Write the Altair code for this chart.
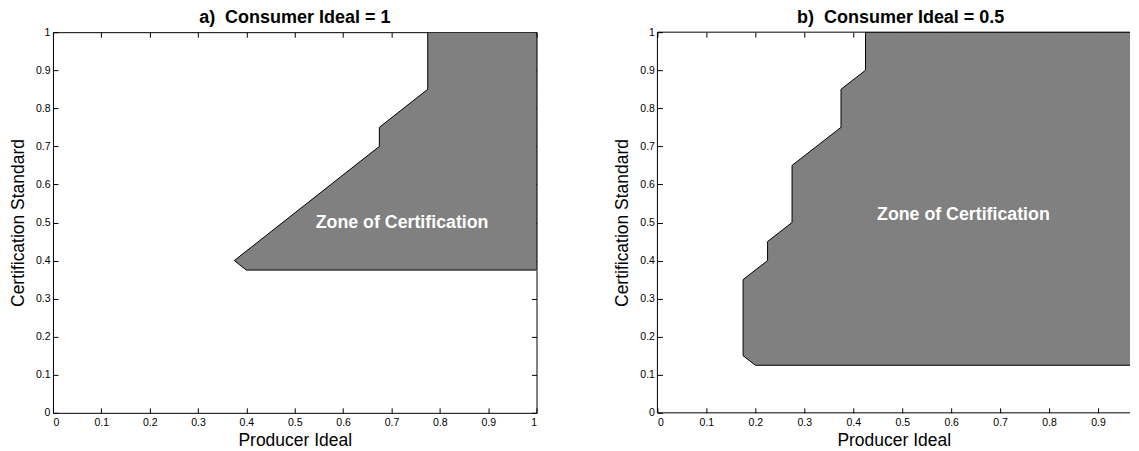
import altair as alt
import pandas as pd

TICKS = [0, 0.1, 0.2, 0.3, 0.4, 0.5, 0.6, 0.7, 0.8, 0.9, 1]

# Panel a: left boundary of the zone of certification (standard -> producer ideal)
A_STANDARD = [0.375, 0.40, 0.70, 0.75, 0.85, 1.00]
A_PRODUCER = [0.400, 0.375, 0.675, 0.675, 0.775, 0.775]
# Panel b
B_STANDARD = [0.125, 0.15, 0.35, 0.40, 0.45, 0.50, 0.65, 0.75, 0.85, 0.90, 1.00]
B_PRODUCER = [0.200, 0.175, 0.175, 0.225, 0.225, 0.275, 0.275, 0.375, 0.375, 0.425, 0.425]
RIGHT_EDGE = 1.0

TITLES = ["a)\u00a0 Consumer Ideal = 1", "b)\u00a0 Consumer Ideal = 0.5"]
ZONE_LABEL = "Zone of Certification"
LABEL_A = (0.722, 0.50)
LABEL_B = (0.625, 0.52)

# panel b is cut off at the right edge of the picture
B_XMAX = 0.9653

FONT = "Liberation Sans"

BASE_AXIS = dict(grid=False, domain=False, tickSize=5, offset=-5,
                 tickColor="black", tickWidth=1, labelFontSize=10.5,
                 labelColor="black", labelFont=FONT, minExtent=0)
TITLE_AXIS = dict(titleFont=FONT, titleFontSize=17.5, titleFontWeight="normal",
                  titleColor="black")


def panel(std, prod, title, lab_pos, width, xmax, full_frame, title_dx):
    zone = pd.DataFrame({"standard": std, "producer": prod,
                         "edge": [RIGHT_EDGE] * len(std)})
    lab = pd.DataFrame({"producer": [lab_pos[0]], "standard": [lab_pos[1]],
                        "text": [ZONE_LABEL]})
    xticks = [t for t in TICKS if t <= xmax]
    xscale = alt.Scale(domain=[0, xmax], nice=False, zero=False)
    yscale = alt.Scale(domain=[0, 1], nice=False, zero=False)

    area = alt.Chart(zone).mark_area(
        orient="horizontal", fill="#808080", stroke="black", strokeWidth=1,
        fillOpacity=1, clip=True
    ).encode(
        y=alt.Y("standard:Q", scale=yscale,
                axis=alt.Axis(title="Certification Standard", orient="left",
                              values=TICKS, format="~g", labelPadding=3,
                              titlePadding=8, **BASE_AXIS, **TITLE_AXIS)),
        x=alt.X("producer:Q", scale=xscale,
                axis=alt.Axis(title="Producer Ideal", orient="bottom",
                              values=xticks, format="~g", labelPadding=5,
                              titleBaseline="alphabetic", titleY=37.5,
                              **BASE_AXIS, **TITLE_AXIS)),
        x2="edge:Q",
    )
    yaxis_right = (alt.Axis(orient="right", labels=False, title=None,
                            values=TICKS, **BASE_AXIS)
                   if full_frame else None)
    text = alt.Chart(lab).mark_text(
        color="white", fontSize=17.8, fontWeight="bold", font=FONT,
        baseline="middle", align="center"
    ).encode(
        x=alt.X("producer:Q", scale=xscale,
                axis=alt.Axis(orient="top", labels=False, title=None,
                              values=xticks, **BASE_AXIS)),
        y=alt.Y("standard:Q", scale=yscale, axis=yaxis_right),
        text="text:N",
    )
    layers = [area]
    props = dict(width=width, height=381,
                 title=alt.TitleParams(title, font=FONT, fontSize=18,
                                       fontWeight="bold", color="black",
                                       anchor="middle", offset=0,
                                       frame="group", dx=title_dx))
    if not full_frame:
        frame = pd.DataFrame({"x": [0, 0, 0], "x2": [0, xmax, xmax],
                              "y": [0, 0, 1], "y2": [1, 0, 1]})
        rules = alt.Chart(frame).mark_rule(color="black", strokeWidth=1).encode(
            x=alt.X("x:Q", scale=xscale, axis=None),
            x2="x2:Q",
            y=alt.Y("y:Q", scale=yscale, axis=None),
            y2="y2:Q",
        )
        layers.append(rules)
        props["view"] = alt.ViewBackground(stroke="transparent")
    layers.append(text)
    return alt.layer(*layers).resolve_scale(
        x="independent", y="independent"
    ).properties(**props)


pa = panel(A_STANDARD, A_PRODUCER, TITLES[0], LABEL_A, 484, 1.0, True, 0)
pb = panel(B_STANDARD, B_PRODUCER, TITLES[1], LABEL_B, 473, B_XMAX, False, 7)

chart = alt.hconcat(pa, pb, spacing=75).properties(padding=0).configure_view(
    stroke="black", strokeWidth=1
)

chart.save("out.html", embed_options={"renderer": "svg", "actions": False})
